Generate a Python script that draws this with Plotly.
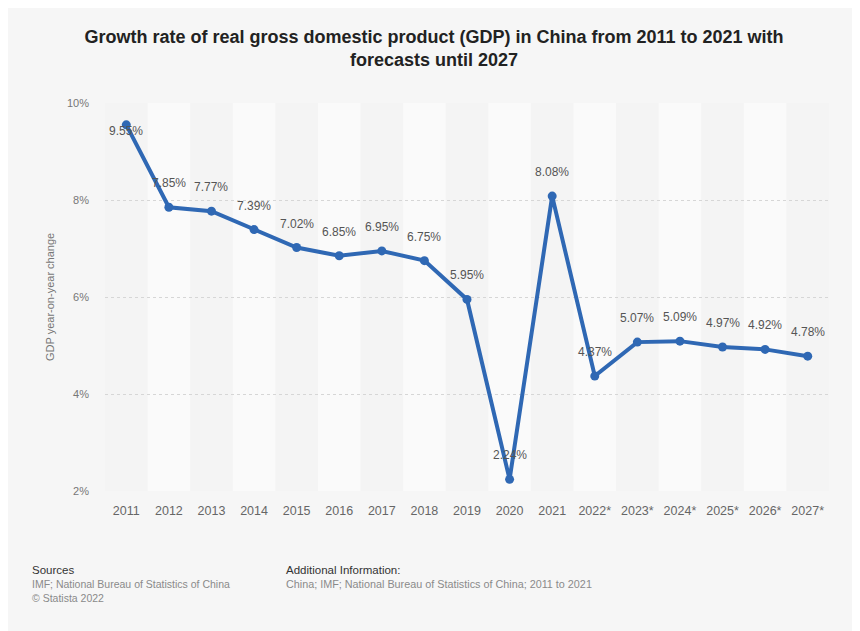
import plotly.graph_objects as go

years = ["2011", "2012", "2013", "2014", "2015", "2016", "2017", "2018", "2019",
         "2020", "2021", "2022*", "2023*", "2024*", "2025*", "2026*", "2027*"]
growth = [9.55, 7.85, 7.77, 7.39, 7.02, 6.85, 6.95, 6.75, 5.95,
          2.24, 8.08, 4.37, 5.07, 5.09, 4.97, 4.92, 4.78]
y_ticks = [2, 4, 6, 8, 10]
y_ticklabels = ["2%", "4%", "6%", "8%", "10%"]

# page body adds an 8px offset; figure coordinates = screen coordinates - 8
OFF = 8
W, H = 852, 623
ML, MR, MT, MB = 97, 31, 95, 140
plot_w = W - ML - MR
plot_h = H - MT - MB
FONT = "Liberation Sans, Arial, sans-serif"

def px_x(x):
    return (x - OFF - ML) / plot_w

def px_y(y):
    return (H - MB - (y - OFF)) / plot_h

fig = go.Figure()
fig.add_trace(go.Scatter(
    x=list(range(len(years))), y=growth, mode="lines+markers",
    line=dict(color="#2f68b4", width=4),
    marker=dict(color="#2f68b4", size=9),
    hoverinfo="skip", showlegend=False,
))

shapes = []
for i in range(len(years)):
    if i % 2 == 0:
        shapes.append(dict(type="rect", xref="x", yref="paper", x0=i - 0.5, x1=i + 0.5,
                           y0=0, y1=1, fillcolor="#f4f4f4", line=dict(width=0), layer="below"))

annotations = []
for i, v in enumerate(growth):
    shift = -6 if i == 0 else 24
    annotations.append(dict(x=i, y=v, xref="x", yref="y", text=f"{v:.2f}%", showarrow=False,
                            yshift=shift, font=dict(size=12, color="#555555", family=FONT)))

footer = [
    ("Sources", 30, 570, "#333333", 11.5),
    ("IMF; National Bureau of Statistics of China", 30, 584, "#8a8a8a", 10.5),
    ("© Statista 2022", 30, 598, "#8a8a8a", 10.5),
    ("Additional Information:", 284, 570, "#333333", 11.5),
    ("China; IMF; National Bureau of Statistics of China; 2011 to 2021", 284, 584, "#8a8a8a", 10.8),
]
for t, x, y, c, s in footer:
    annotations.append(dict(x=px_x(x), y=px_y(y), xref="paper", yref="paper", text=t, showarrow=False,
                            xanchor="left", yanchor="middle", font=dict(size=s, color=c, family=FONT)))

annotations.append(dict(x=px_x(50), y=0.5, xref="paper", yref="paper", text="GDP year-on-year change",
                        textangle=-90, showarrow=False, xanchor="center", yanchor="middle",
                        font=dict(size=11, color="#777777", family=FONT)))

fig.update_layout(
    width=W, height=H,
    margin=dict(l=ML, r=MR, t=MT, b=MB),
    paper_bgcolor="#f6f6f6", plot_bgcolor="#fafafa",
    title=dict(text="<b>Growth rate of real gross domestic product (GDP) in China from 2011 to 2021 with<br>forecasts until 2027</b>",
               x=0.5, xanchor="center", y=1 - 35 / H, yanchor="middle",
               font=dict(size=18, color="#222222", family=FONT)),
    xaxis=dict(tickvals=list(range(len(years))), ticktext=years, range=[-0.5, len(years) - 0.5],
               showgrid=False, zeroline=False, showline=False, ticklabelstandoff=10,
               tickfont=dict(size=12.5, color="#666666", family=FONT), ticklen=0, ticks=""),
    yaxis=dict(range=[2, 10], tickvals=y_ticks, ticktext=y_ticklabels,
               showgrid=True, gridcolor="#d6d6d6", griddash="dot", gridwidth=1,
               zeroline=False, showline=False, ticks="", ticklen=0, ticklabelstandoff=15,
               tickfont=dict(size=11, color="#777777", family=FONT)),
    shapes=shapes, annotations=annotations,
)
fig.write_html("out.html")
